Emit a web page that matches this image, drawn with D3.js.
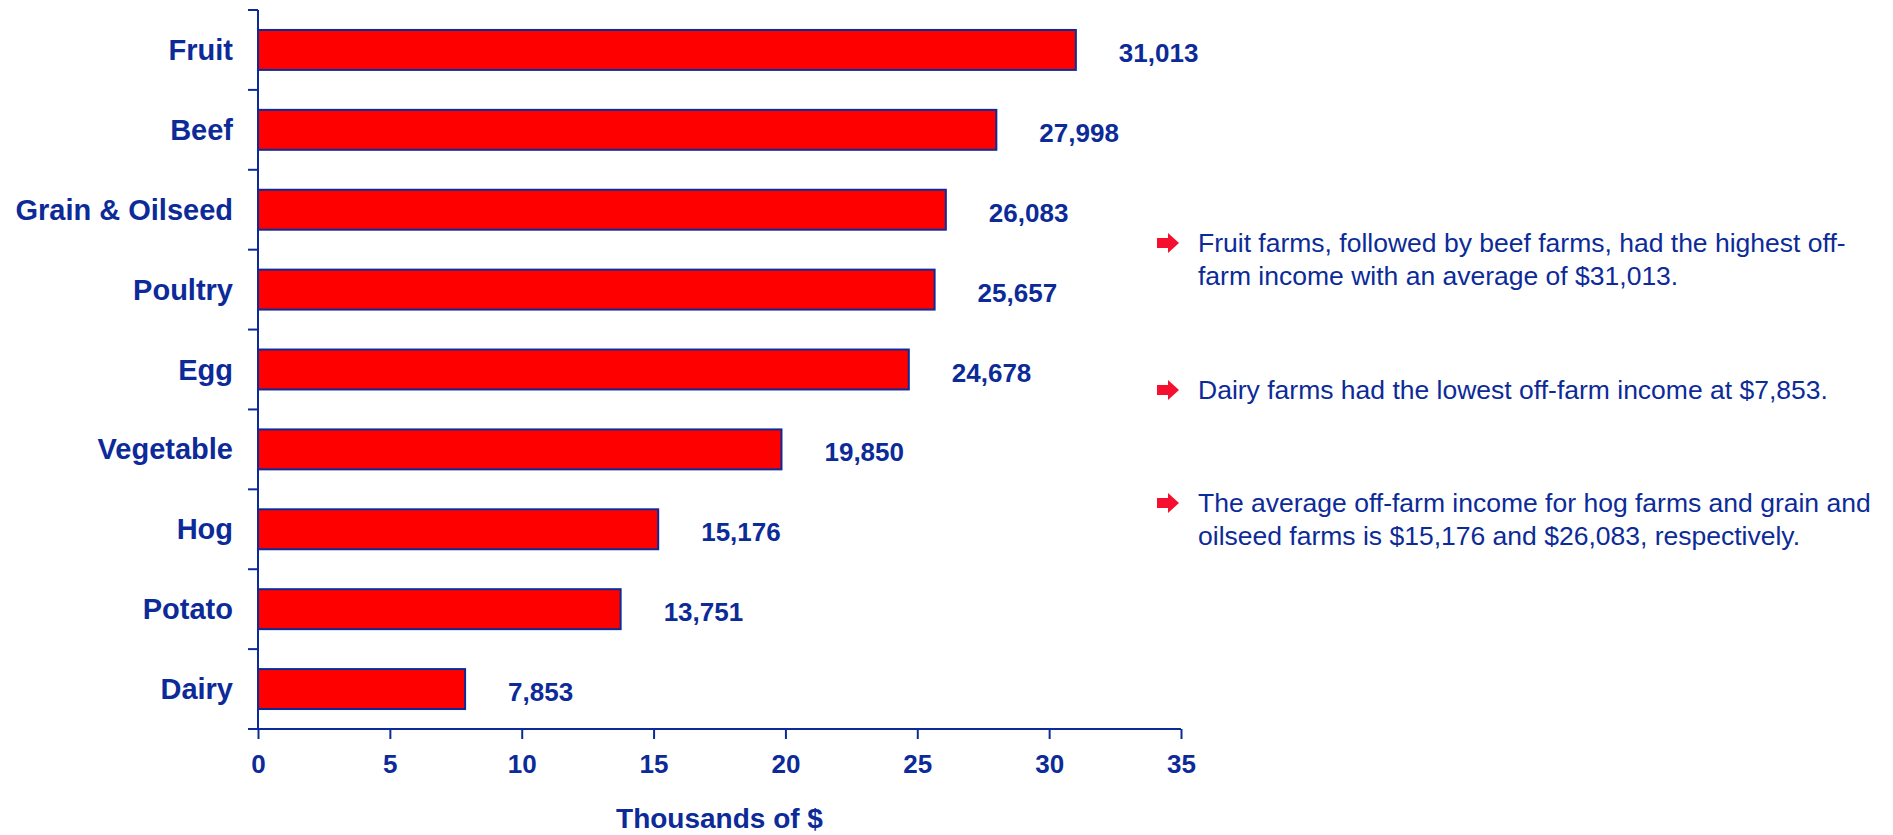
<!DOCTYPE html>
<html>
<head>
<meta charset="utf-8">
<script src="https://cdn.jsdelivr.net/npm/d3@7"></script>
<style>
  html, body { margin: 0; padding: 0; background: #ffffff; }
  svg { display: block; font-family: Arial, "Liberation Sans", sans-serif; }
</style>
</head>
<body>
<svg id="chart" width="1893" height="835"></svg>
<script>
// Average off-farm income by farm type (thousands of dollars)
const categories = ["Fruit", "Beef", "Grain & Oilseed", "Poultry", "Egg", "Vegetable", "Hog", "Potato", "Dairy"];
const values = [31.013, 27.998, 26.083, 25.657, 24.678, 19.850, 15.176, 13.751, 7.853];
const valueLabels = ["31,013", "27,998", "26,083", "25,657", "24,678", "19,850", "15,176", "13,751", "7,853"];
const xTicks = [0, 5, 10, 15, 20, 25, 30, 35];
const axisTitle = "Thousands of $";
const notes = [
  ["Fruit farms, followed by beef farms, had the highest off-", "farm income with an average of $31,013."],
  ["Dairy farms had the lowest off-farm income at $7,853."],
  ["The average off-farm income for hog farms and grain and", "oilseed farms is $15,176 and $26,083, respectively."]
];

const blue = "#0c2b98";
const red = "#ff0000";
const arrowRed = "#f5102f";

const svg = d3.select("#chart");

const plot = { left: 258, right: 1181, top: 10, bottom: 729 };

const x = d3.scaleLinear().domain([0, 35]).range([plot.left, plot.right]);
const y = d3.scaleBand()
  .domain(categories)
  .range([plot.top, plot.bottom])
  .paddingInner(0.5)
  .paddingOuter(0.25);

// Bars
svg.append("g")
  .selectAll("rect")
  .data(values)
  .join("rect")
  .attr("x", x(0))
  .attr("y", (d, i) => y(categories[i]))
  .attr("width", d => x(d) - x(0))
  .attr("height", y.bandwidth())
  .attr("fill", red)
  .attr("stroke", blue)
  .attr("stroke-width", 2);

// Value labels beyond the bar ends
svg.append("g")
  .selectAll("text")
  .data(values)
  .join("text")
  .attr("x", d => x(d) + 43)
  .attr("y", (d, i) => y(categories[i]) + y.bandwidth() / 2 + 3)
  .attr("dominant-baseline", "central")
  .attr("fill", blue)
  .attr("font-size", 26)
  .attr("font-weight", "bold")
  .text((d, i) => valueLabels[i]);

// Y axis: line, ticks on category boundaries, labels
const yAxisG = svg.append("g");
yAxisG.append("line")
  .attr("x1", plot.left).attr("x2", plot.left)
  .attr("y1", plot.top).attr("y2", plot.bottom)
  .attr("stroke", blue).attr("stroke-width", 2);

const step = y.step();
const boundaries = d3.range(categories.length + 1).map(k => plot.top + k * step);
yAxisG.selectAll("line.tick")
  .data(boundaries)
  .join("line")
  .attr("class", "tick")
  .attr("x1", plot.left - 10).attr("x2", plot.left)
  .attr("y1", d => d).attr("y2", d => d)
  .attr("stroke", blue).attr("stroke-width", 2);

yAxisG.selectAll("text")
  .data(categories)
  .join("text")
  .attr("x", plot.left - 25)
  .attr("y", d => y(d) + y.bandwidth() / 2)
  .attr("text-anchor", "end")
  .attr("dominant-baseline", "central")
  .attr("fill", blue)
  .attr("font-size", 29)
  .attr("font-weight", "bold")
  .text(d => d);

// X axis
const xAxis = d3.axisBottom(x)
  .tickValues(xTicks)
  .tickSize(10)
  .tickSizeOuter(0)
  .tickPadding(16)
  .tickFormat(d3.format("d"));

const xAxisG = svg.append("g")
  .attr("transform", `translate(0,${plot.bottom})`)
  .call(xAxis);

xAxisG.select(".domain").remove();
xAxisG.append("line")
  .attr("x1", plot.left - 10).attr("x2", plot.right)
  .attr("y1", 0).attr("y2", 0)
  .attr("stroke", blue).attr("stroke-width", 2);
xAxisG.selectAll(".tick line").attr("stroke", blue).attr("stroke-width", 2);
xAxisG.selectAll(".tick text")
  .attr("fill", blue)
  .attr("font-size", 26)
  .attr("font-weight", "bold")
  .attr("font-family", "Arial, 'Liberation Sans', sans-serif");

svg.append("text")
  .attr("x", (plot.left + plot.right) / 2)
  .attr("y", 828)
  .attr("text-anchor", "middle")
  .attr("fill", blue)
  .attr("font-size", 28)
  .attr("font-weight", "bold")
  .text(axisTitle);

// Commentary with arrow bullets
const noteTops = [243, 390, 503];
const lineGap = 32.5;
const notesG = svg.append("g");
notes.forEach((lines, i) => {
  const cy = noteTops[i];
  const ax = 1157;
  notesG.append("path")
    .attr("d", `M${ax},${cy - 5} L${ax + 11},${cy - 5} L${ax + 11},${cy - 10} L${ax + 22},${cy} L${ax + 11},${cy + 10} L${ax + 11},${cy + 5} L${ax},${cy + 5} Z`)
    .attr("fill", arrowRed);
  lines.forEach((t, j) => {
    notesG.append("text")
      .attr("x", 1198)
      .attr("y", cy + j * lineGap)
      .attr("dominant-baseline", "central")
      .attr("fill", blue)
      .attr("font-size", 26.5)
      .text(t);
  });
});
</script>
</body>
</html>
